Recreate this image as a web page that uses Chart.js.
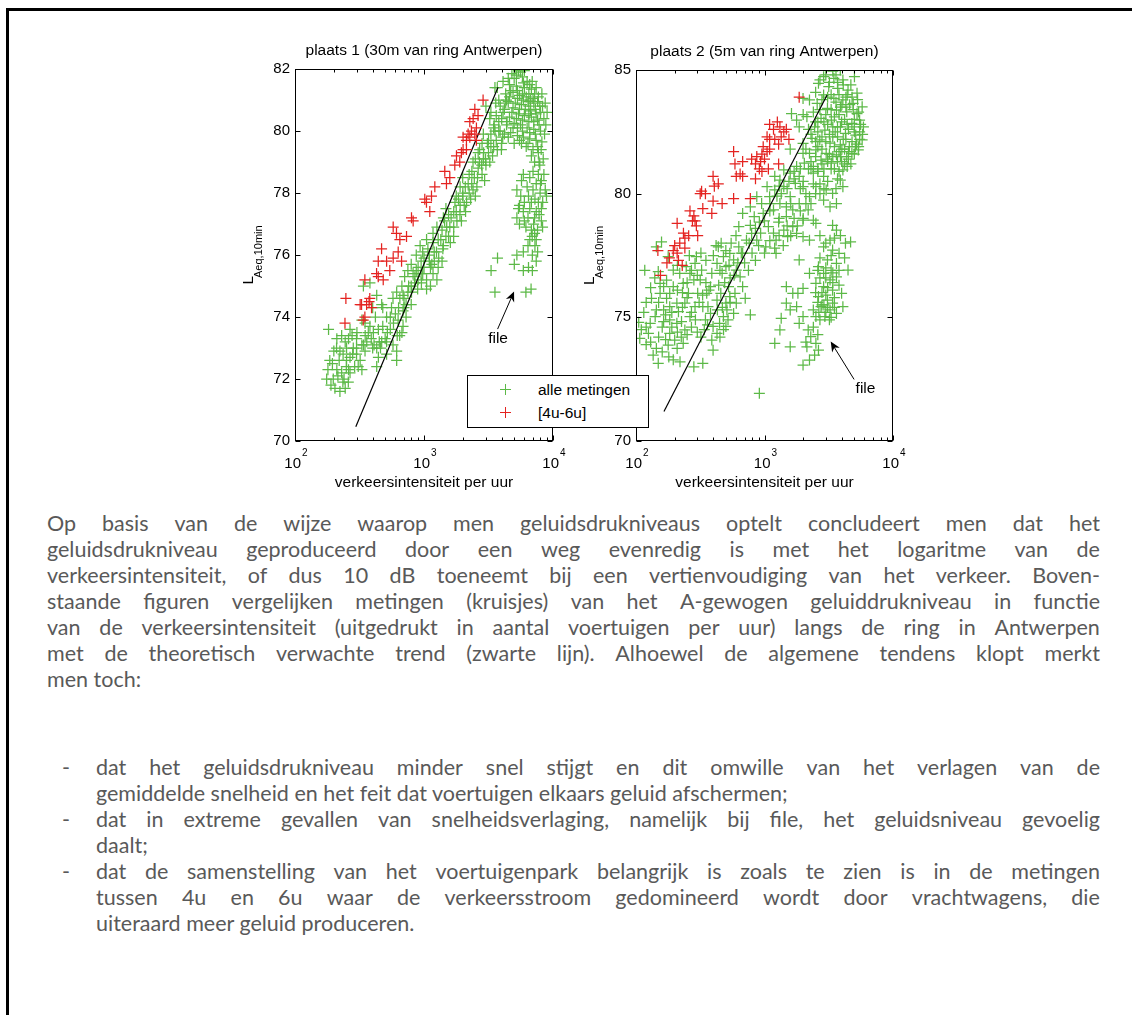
<!DOCTYPE html>
<html><head><meta charset="utf-8">
<script src="https://cdn.jsdelivr.net/npm/chart.js@4.4.1/dist/chart.umd.min.js"></script>
<style>
html,body{margin:0;padding:0;background:#fff}
body{width:1132px;height:1015px;position:relative;overflow:hidden}
#frame{position:absolute;left:6px;top:8px;width:1300px;height:1200px;border-left:3px solid #000;border-top:3px solid #000;box-sizing:border-box}
canvas{position:absolute;top:30px}
#c1{left:230px}
#c2{left:575px}
#legend{position:absolute;left:467px;top:375px;width:180px;height:51px;border:1px solid #000;background:#fff;font:15.5px 'Liberation Sans',Arial,sans-serif;color:#000;z-index:5}
#legend .item{position:absolute;left:0;height:20px;line-height:20px;width:180px}
#legend .cross{position:absolute;left:32px;top:4px;width:11px;height:11px}
#legend .cross:before{content:"";position:absolute;left:0;top:5px;width:11px;height:1px;background:var(--c)}
#legend .cross:after{content:"";position:absolute;left:5px;top:0;width:1px;height:11px;background:var(--c)}
#legend .lab{position:absolute;left:70px;top:0}
.txt{position:absolute;font-family:Lato,sans-serif;font-size:21.5px;line-height:26px;color:#595959}
.ln{height:26px;white-space:nowrap}
.j{display:flex;justify-content:space-between}
.dash{position:absolute;left:-34px}
</style>
</head><body>
<div id="frame"></div>
<canvas id="c1" width="345" height="465" style="width:345px;height:465px"></canvas>
<canvas id="c2" width="340" height="465" style="width:340px;height:465px"></canvas>
<div id="legend">
  <div class="item" style="top:4px"><span class="cross" style="--c:#5cb947"></span><span class="lab" id="lg0"></span></div>
  <div class="item" style="top:27px"><span class="cross" style="--c:#e42320"></span><span class="lab" id="lg1"></span></div>
</div>
<div class="txt" style="left:47px;top:510px;width:1053px">
  <div class="ln j">Op basis van de wijze waarop men geluidsdrukniveaus optelt concludeert men dat het</div>
  <div class="ln j">geluidsdrukniveau geproduceerd door een weg evenredig is met het logaritme van de</div>
  <div class="ln j">verkeersintensiteit, of dus 10 dB toeneemt bij een vertienvoudiging van het verkeer. Boven-</div>
  <div class="ln j">staande figuren vergelijken metingen (kruisjes) van het A-gewogen geluiddrukniveau in functie</div>
  <div class="ln j">van de verkeersintensiteit (uitgedrukt in aantal voertuigen per uur) langs de ring in Antwerpen</div>
  <div class="ln j">met de theoretisch verwachte trend (zwarte lijn). Alhoewel de algemene tendens klopt merkt</div>
  <div class="ln">men toch:</div>
</div>
<div class="txt" style="left:96px;top:754px;width:1004px">
  <div class="ln j" style="position:relative"><span class="dash">-</span>dat het geluidsdrukniveau minder snel stijgt en dit omwille van het verlagen van de</div>
  <div class="ln">gemiddelde snelheid en het feit dat voertuigen elkaars geluid afschermen;</div>
  <div class="ln j" style="position:relative"><span class="dash">-</span>dat in extreme gevallen van snelheidsverlaging, namelijk bij file, het geluidsniveau gevoelig</div>
  <div class="ln">daalt;</div>
  <div class="ln j" style="position:relative"><span class="dash">-</span>dat de samenstelling van het voertuigenpark belangrijk is zoals te zien is in de metingen</div>
  <div class="ln j">tussen 4u en 6u waar de verkeersstroom gedomineerd wordt door vrachtwagens, die</div>
  <div class="ln">uiteraard meer geluid produceren.</div>
</div>
<script>
// ---------- data ----------
const seriesNames = ['alle metingen', '[4u-6u]'];
const chart1Title = 'plaats 1 (30m van ring Antwerpen)';
const chart2Title = 'plaats 2 (5m van ring Antwerpen)';
const xAxisLabel = 'verkeersintensiteit per uur';
const yAxisLabelMain = 'L';
const yAxisLabelSub = 'Aeq,10min';
const xDecadeTicks = [100, 1000, 10000];
const xDecadeExponents = ['2', '3', '4'];
const yTicks1 = [70, 72, 74, 76, 78, 80, 82];
const yTicks2 = [70, 75, 80, 85];
const trend1 = [[296, 70.46], [3750, 81.41]];
const trend2 = [[165, 71.19], [3070, 83.99]];
const fileNote1 = {text: 'file', at: [3750, 73.29], tail: [3720, 73.61], head: [4990, 74.82]};
const fileNote2 = {text: 'file', at: [6110, 72.12], tail: [4980, 72.49], head: [3275, 74.02]};

const red1 = [[248,74.6],[244,73.8],[348,75.2],[328,74.4],[359,74.4],[380,74.6],[392,74.3],[348,74.0],[338,73.9],[429,75.4],[442,75.3],[469,76.2],[483,75.2],[442,75.8],[513,75.8],[543,75.5],[577,75.9],[631,76.1],[670,75.8],[577,76.9],[612,76.7],[650,76.5],[732,76.6],[800,77.2],[824,77.1],[1014,77.8],[1109,77.4],[1143,77.9],[1213,78.2],[1045,77.7],[1449,78.7],[1493,78.3],[1585,78.5],[1733,78.9],[1786,79.2],[1893,79.0],[2009,79.4],[2009,79.8],[2133,79.7],[2198,79.9],[2265,79.8],[2333,80.0],[2133,79.4],[2477,79.9],[2549,80.1],[2404,80.4],[2624,80.5],[2477,80.7],[2871,81.0],[2265,80.3],[2549,79.7],[1950,79.3],[375,74.5],[320,74.4]];

const green1 = [[182,73.6],[176,72.0],[198,72.0],[204,71.7],[223,71.6],[245,71.7],[259,71.9],[211,72.3],[230,72.2],[186,72.6],[236,72.8],[251,73.0],[267,72.7],[290,72.4],[309,72.4],[330,72.3],[245,73.2],[277,73.4],[302,73.5],[330,73.1],[349,72.9],[267,73.6],[283,73.0],[223,72.9],[251,72.6],[211,73.3],[267,72.2],[330,73.9],[349,73.8],[381,73.7],
[405,73.5],[443,73.6],[479,73.7],[443,72.7],[430,72.4],[513,73.2],[548,73.6],[575,73.1],[614,72.9],[648,73.4],[688,73.7],[674,73.5],[513,72.8],[614,72.6],[470,73.2],[548,74.0],[600,74.1],[635,74.3],[688,74.2],[726,74.0],[479,74.3],[513,74.0],[575,74.6],[614,74.8],[674,75.0],[688,74.7],[750,74.8],[796,74.4],[726,74.4],[796,75.0],[846,75.1],[893,74.9],[823,75.4],[871,75.5],[955,75.1],[977,75.4],[1047,75.2],[1122,75.0],[1047,74.9],[1175,75.4],[1259,75.2],[1122,75.6],[1202,75.8],[1288,75.6],[1380,75.8],[977,76.1],[1072,76.2],[1175,76.4],[1288,76.5],[1413,76.3],[1479,76.6],[1380,76.8],[1445,77.1],[1585,76.9],[1698,76.6],[1622,77.2],[1778,77.4],[1905,77.6],[1950,77.1],[1995,77.9],[2138,77.7],[2239,78.0],[2089,78.2],[2344,78.3],[2455,78.5],[2570,78.2],[2630,78.8],[2692,79.0],[2818,78.6],[2884,79.1],[3020,78.9],[2951,78.4],[3162,79.3],[3236,79.0],[3467,79.5],[3631,79.7],[3981,79.4],[4074,79.8],[3890,80.0],[4365,80.2],[3467,80.1],[3236,80.4],[3631,80.5],[3162,79.7],[2884,79.9],[2818,79.6],[2630,79.3],[2399,79.0],[2239,78.6],[1995,78.5],[1905,78.2],[1778,77.9],[1738,77.7],[1479,77.5],[1413,77.2],[1259,76.9],[1175,76.7],[1047,76.5],[933,76.3],[871,76.0],[796,75.7],[750,75.5],[708,75.3],
[430,74.7],[470,74.4],[381,75.1],[339,75.0],[400,74.3],[420,74.0],[3548,81.4],[4365,81.0],[3020,80.8],[3600,80.9],[3300,80.6],
[560,74.3],[650,74.6],[700,74.3],[760,75.0],[900,75.6],[950,75.8],[1000,75.9],[1100,76.0],[1150,75.7],[1250,76.1],[1350,76.5],[1500,76.9],[1550,77.3],[1700,77.4],[1850,77.8],[2000,78.0],[2200,78.3],[2350,78.7],[2500,79.1],[2700,79.4],[2900,79.3],[3100,79.6],[3300,79.9],[3500,80.2],[3800,80.3],[4100,80.6],[4300,80.9],[3800,81.0],[450,73.2],[520,73.5],[580,73.8],[620,73.4],[400,73.0],[350,73.4],[300,73.0],[250,72.4],[220,72.6],[200,72.9],[190,71.8],[240,72.0],
[5400,81.95],[5000,81.7],[5800,81.75],[6300,81.6],[4600,81.5],[5200,81.45],[6000,81.4],[6800,81.35],[4300,81.2],[4900,81.25],[5500,81.15],[6200,81.1],[7000,81.05],[7600,80.95],[4500,80.95],[5100,80.9],[5700,80.85],[6500,80.8],[7300,80.7],[8000,80.6],[4200,80.7],[4800,80.6],[5400,80.55],[6000,80.5],[6800,80.45],[7600,80.35],[8500,80.4],[4400,80.3],[5000,80.25],[5600,80.2],[6300,80.1],[7100,80.05],[8000,80.0],[4700,79.95],[5300,79.85],[5900,79.8],[6600,79.75],[7400,79.7],[8200,79.65],[5000,79.6],[6200,79.5],[7000,79.4],[7700,79.3],[8400,79.1],[7200,79.0],[7900,78.9],[3900,80.8],[3700,81.4],[4100,81.6],[5600,81.9],[6700,81.0],[8700,80.9],[8200,81.2],[7400,81.4],[4000,80.4],[3800,80.0],[6000,81.95],[4800,81.85],[5300,80.1],[6500,80.3],[5700,79.6],[8800,80.2],[9000,80.6],
[4500,81.7],[5000,82.0],[5900,81.55],[6600,81.5],[4700,81.3],[5300,81.3],[5800,81.2],[6500,81.2],[7200,81.2],[4600,81.1],[5300,81.05],[5900,81.0],[6400,80.95],[7100,80.9],[7900,80.8],[4900,80.75],[5500,80.7],[6100,80.7],[6700,80.65],[7400,80.55],[4600,80.45],[5200,80.4],[5800,80.35],[6500,80.55],[7100,80.3],[7800,80.2],[4900,80.1],[5800,80.0],[6600,79.95],[7300,79.9],[5500,79.7],[6400,79.6],[7600,79.5],[8100,79.4],[4500,79.8],[8600,79.9],[8300,80.8],[7700,81.1],[6900,81.6],[5200,81.8],
[5888,78.6],[6607,78.5],[7413,78.3],[8128,78.4],[5248,78.1],[5623,77.9],[6457,77.9],[7244,77.8],[7943,78.0],[8318,77.7],[5495,77.6],[5888,77.4],[6607,77.5],[7413,77.4],[8128,77.1],[5248,77.2],[5495,77.0],[6166,76.9],[7079,77.0],[7586,76.8],[8128,77.5],[8710,78.1],[6607,76.5],[7244,76.3],[6918,76.0],[7413,75.8],[6457,75.6],[6918,75.5],[5888,75.5],[5888,76.1],[5012,75.7],[5248,76.0],[3715,75.9],[3311,75.5],[3548,74.8],[6166,74.8],[6761,74.9],[7413,76.5],[7800,79.0],[6800,79.2],[8500,78.6],[8900,77.9],[7000,78.7],
[6300,78.2],[7000,78.1],[7700,78.6],[6000,77.7],[6800,77.7],[7700,77.7],[6400,77.2],[7200,77.2],[7800,77.3],[6000,77.1],[6800,76.8],[7200,76.7],[6400,76.3],[6900,76.6],[7600,76.1],[8300,76.9],[8000,78.3],[5700,78.4],[5400,77.5],
[1300,75.9],[1400,76.2],[1600,76.4],[1700,76.9],[1800,77.1],[2100,77.4],[2300,77.8],[2500,77.9],[2600,78.5],[2800,78.9],[3000,79.1],[3400,79.2],[3700,79.4],[4000,79.6],[4200,79.9],[3300,79.5],[2400,78.1],[1900,77.3],[1100,75.8],[950,75.4],[850,75.3],[800,74.8],[700,74.6],[630,73.9],[900,75.2],[1000,75.6],[1200,76.1],[1550,76.6],[2050,77.6],[3550,80.0],
[180,72.3],[195,72.5],[215,72.1],[235,71.9],[260,72.3],[280,72.8],[300,72.8],[320,72.6],[340,73.1],[360,73.2],[300,73.3],[260,73.3],[230,73.4],[210,73.0],[370,73.5],[390,73.3],[410,73.1],[430,73.0],[460,73.0],[500,73.3]];

const red2 = [[1862,83.9],[1096,82.8],[1175,82.6],[1259,82.9],[1318,82.7],[1413,82.5],[1479,82.6],[1047,82.3],[1096,82.2],[1202,82.2],[1288,82.0],[1349,82.3],[1549,82.2],[977,81.9],[1047,81.7],[1096,81.8],[955,81.6],[1000,81.4],[871,81.5],[933,81.3],[851,81.2],[912,81.0],[955,80.9],[1072,81.0],[1288,81.2],[676,81.3],[575,81.7],[589,81.2],[794,81.4],[603,80.7],[646,80.8],[676,80.7],[851,80.6],[398,80.7],[407,80.3],[437,80.4],[324,80.1],[347,80.0],[316,80.0],[398,79.7],[468,79.6],[575,79.8],[776,79.8],[331,79.4],[389,79.2],[263,79.3],[282,79.1],[288,78.9],[295,78.7],[275,78.9],[302,78.3],[209,78.8],[234,78.4],[240,78.2],[257,78.3],[219,78.0],[200,77.9],[209,77.6],[195,77.7],[182,77.4],[214,77.3],[229,77.1],[174,77.2],[148,77.7],[155,76.7],[240,77.8]];

const green2 = [[107,74.15],[125,74.35],[110,74.5],[129,74.76],[141,75.03],[117,76.9],[149,76.85],[132,75.77],[154,75.97],[164,76.24],[173,76.5],[183,75.97],[195,76.24],[208,75.57],[183,75.43],[164,75.3],[144,75.3],[164,74.83],[183,74.9],[208,74.76],[226,74.83],[183,74.35],[200,74.08],[178,73.88],[209,73.74],[144,73.74],[136,73.47],[149,73.14],[195,73.28],[233,73.95],[240,74.49],[214,75.23],[173,75.77],[154,76.37],[233,76.37],[256,75.97],[263,76.78],[219,76.78],[195,76.91],[178,77.45],[246,77.05],[288,77.18],[282,76.51],[240,75.57],[263,75.03],[288,75.43],[302,75.97],[316,76.51],[324,76.91],[295,77.45],[282,73.0],[331,73.14],[331,75.43],[355,75.97],[347,74.9],[380,75.16],[398,74.63],[389,74.08],[427,74.35],[447,74.76],[479,75.03],[501,74.63],[398,73.67],[363,75.43],[427,75.7],[457,75.97],[501,75.57],[537,75.84],[525,76.24],[589,75.97],[603,75.57],[575,75.16],[468,76.78],[501,77.05],[479,77.45],[537,77.59],[575,77.32],[603,76.91],[646,76.64],[427,77.18],[389,76.78],[380,76.24],[437,77.85],[676,76.24],[708,75.77],[776,75.1],[631,77.85],[676,77.59],[724,78.12],[794,78.39],[871,78.12],[776,78.72],[832,79.07],[912,78.85],[977,79.2],[1072,78.67],[1175,78.4],[1288,78.85],[1175,79.34],[1318,79.6],[1096,79.88],[1202,80.15],[1413,80.28],[1585,79.88],[1479,79.47],[1738,80.42],[1862,80.7],[1995,80.28],[1778,81.1],[2042,81.23],[2239,81.63],[1995,82.03],[1862,82.7],[2138,83.11],[1622,83.24],[1778,82.97],[1585,81.8],[1995,81.63],[1023,77.85],[1230,78.12],[1413,78.53],[1479,79.07],[1660,79.34],[1862,79.6],[2239,79.88],[2512,80.28],[2399,80.83],[2884,80.7],[3020,80.15],[3388,80.01],[3631,79.6],[3890,80.55],[4074,80.28],[3236,79.47],[2884,79.74],[1585,80.83],[1413,80.96],[1318,80.55],[1202,80.7],[1047,80.28],[871,79.88],[776,79.47],[676,79.2],[631,78.67],[933,78.4],[1230,77.59],[1514,78.26],[1660,78.67],[1995,78.93],[2188,79.34],[2399,78.93],[1995,78.26],[1778,78.39],[158,78.05],[144,77.85],
[700,77.2],[800,77.6],[900,77.9],[760,78.0],[850,78.6],[1000,78.9],[1100,79.3],[950,79.6],[1250,79.9],[1350,80.0],[1550,80.5],[1700,80.9],[1300,79.0],[1600,79.6],[1900,80.2],[2100,80.0],[2400,80.4],[2600,81.0],[2100,81.8],[2300,82.4],[2000,83.2],
[3890,85.0],[2884,84.73],[3467,84.66],[4074,84.6],[2630,84.46],[3162,84.33],[3715,84.26],[4467,84.19],[2884,83.99],[3467,83.85],[4074,83.79],[4898,83.65],[2570,83.65],[3090,83.45],[3631,83.38],[4365,83.31],[5248,83.24],[2754,83.04],[3311,82.97],[3981,82.9],[4786,82.84],[5495,82.97],[2455,82.7],[2951,82.57],[3548,82.5],[4266,82.44],[5129,82.37],[5754,82.17],[2692,82.17],[3236,82.04],[3890,81.97],[4571,81.9],[5370,81.77],[3020,81.63],[3631,81.57],[4365,81.5],[2754,81.36],[3311,81.23],[3981,81.3],[4786,81.63],[2512,81.77],[2344,82.24],[2239,83.79],[1995,83.85],[5012,84.73],[5248,84.06],[5754,83.51],[5888,82.7],[4074,80.96],
[3300,84.0],[3800,84.0],[4300,83.9],[3000,83.2],[3900,83.5],[4600,83.6],[3500,83.1],[4200,83.0],[2600,82.9],[3100,82.8],[3700,82.7],[4500,82.6],[5000,83.0],[2800,82.3],[3400,82.3],[4100,82.2],[4800,82.1],[2600,81.9],[3200,81.6],[3800,81.7],[4200,81.8],[5100,81.9],[2900,81.0],[3500,81.0],[4400,81.1],[2600,80.9],[3100,81.3],[5500,82.5],[5300,83.8],[4700,84.4],[3400,84.95],[3600,84.8],[2400,83.3],[2200,82.6],[2300,81.3],[3700,80.6],[3600,80.2],[2700,80.0],
[2700,84.6],[3000,84.8],[3200,84.5],[3700,84.5],[4100,84.4],[4400,84.0],[2500,84.1],[2800,83.8],[3100,83.9],[3600,83.7],[4000,83.6],[4800,83.9],[2700,83.4],[3300,83.4],[3800,83.2],[4300,83.5],[4900,83.4],[5400,83.3],[2500,82.9],[2900,82.9],[3400,82.7],[3900,82.7],[4400,82.8],[5000,82.7],[5600,82.8],[2600,82.5],[3200,82.4],[3700,82.3],[4300,82.2],[5000,82.5],[5500,82.2],[2500,82.1],[3000,82.1],[3500,81.9],[4000,81.8],[4500,81.7],[5000,81.6],[2800,81.8],[3400,81.5],[3900,81.5],[4500,81.4],[2500,81.5],[3100,81.4],[3700,81.3],[4200,81.2],[2800,81.2],[3300,81.0],[3800,80.9],[2400,81.1],[2200,81.0],[5400,81.9],[5800,82.4],[5200,82.0],[4700,81.2],
[105,74.8],[115,75.2],[120,75.6],[130,76.2],[140,76.6],[120,73.9],[130,74.0],[150,74.2],[160,74.6],[170,74.1],[190,74.6],[210,74.4],[225,74.2],[250,74.3],[270,74.6],[290,74.9],[300,74.4],[320,74.2],[340,74.5],[360,74.7],[150,75.6],[170,75.1],[190,75.2],[230,75.4],[250,75.8],[270,75.2],[310,75.6],[330,75.9],[370,76.1],[210,76.1],[230,76.0],[250,76.4],[270,76.9],[300,76.7],[350,76.4],[210,77.1],[260,77.5],[320,77.6],[350,77.3],[400,77.5],[420,77.9],[460,78.0],[500,77.7],[550,78.0],[600,78.3],[180,73.4],[220,73.2],[160,73.6],[120,74.6],[450,74.2],[480,74.5],[520,74.9],[430,75.3],[470,75.4],[510,75.3],[440,76.3],[490,76.4],[540,76.6],[450,76.9],[530,77.1],[580,76.7],[620,77.2],[660,77.6],[540,75.6],
[1100,78.1],[1300,78.3],[1500,78.7],[1700,79.0],[1900,79.3],[2100,79.6],[2300,79.6],[2500,80.0],[2700,80.4],[2900,80.2],[3100,80.5],[2000,79.0],[1800,78.7],[1600,78.3],[1400,77.9],[1200,77.8],[1000,77.6],[850,77.3],[750,76.9],[1100,79.6],[1300,80.3],[1500,80.2],[1700,80.6],[1900,81.0],[2300,81.0],[2000,80.5],
[2512,78.8],[3388,78.72],[3631,78.53],[3236,78.12],[2884,77.85],[3388,77.72],[3802,77.59],[4266,78.0],[4677,78.05],[3090,77.32],[3631,77.18],[4467,76.91],[2630,77.05],[2239,76.78],[2884,76.78],[3236,76.51],[3631,76.64],[2512,76.37],[2884,76.24],[3388,76.1],[2630,75.84],[3090,75.7],[3388,75.57],[2754,75.43],[3236,75.3],[3631,75.16],[2399,75.3],[2512,75.03],[2951,75.03],[1862,77.32],[1995,76.17],[1820,75.97],[1778,75.43],[1995,75.03],[1862,74.76],[2188,74.49],[2291,74.22],[2512,73.95],[2630,73.67],[2455,73.47],[2239,73.27],[1995,73.07],[2138,73.81],[1479,76.24],[1660,75.97],[1479,75.57],[1585,75.3],[1349,74.96],[1318,74.49],[1202,73.95],[1585,73.81],[4074,75.43],[3981,75.97],[912,71.93],[2239,78.12],[2800,76.0],[3000,75.9],[3300,76.9],[2700,76.6],[3100,76.2],[3500,75.8],[2900,75.5],[3300,75.0],[2600,75.6],
[2700,78.3],[3000,78.0],[3500,78.2],[3300,77.5],[2700,77.4],[3000,77.0],[3400,76.8],[3800,76.9],[3000,76.6],[2600,76.9],[3400,76.4],[3800,76.3],[2500,76.0],[2800,75.5],[3100,75.4],[3500,75.4],[2650,75.2],[3000,75.2],[3200,74.9],[2400,74.6],[2600,74.3],[2100,74.0],[2700,74.9],[4200,77.4],[3900,78.3]];

// ---------- styling ----------
const GREEN = '#5cb947';
const RED = '#e42320';
const FONT = "'Liberation Sans', Arial, sans-serif";

document.getElementById('lg0').textContent = seriesNames[0];
document.getElementById('lg1').textContent = seriesNames[1];

// justify lines: each word becomes a flex item
document.querySelectorAll('.ln.j').forEach(el => {
  const dash = el.querySelector('.dash');
  const text = Array.from(el.childNodes).filter(n => n.nodeType === 3).map(n => n.textContent).join('').trim();
  el.innerHTML = '';
  if (dash) el.appendChild(dash);
  text.split(/\s+/).forEach(w => { const s = document.createElement('span'); s.textContent = w; el.appendChild(s); });
});

const toXY = arr => arr.map(p => ({x: p[0], y: p[1]}));

function decor(o) {
  return {
    id: 'decor',
    afterDraw(chart) {
      const {ctx, chartArea: a, scales: {x, y}} = chart;
      const L = Math.round(a.left) + 0.5, R = Math.round(a.right) - 0.5;
      const T = Math.round(a.top) + 0.5, B = Math.round(a.bottom) - 0.5;
      ctx.save();
      ctx.strokeStyle = '#000'; ctx.fillStyle = '#000'; ctx.lineWidth = 1;
      ctx.strokeRect(L, T, R - L, B - T);
      ctx.beginPath();
      xDecadeTicks.forEach((d, i) => {
        const px = Math.round(x.getPixelForValue(d)) + 0.5;
        ctx.moveTo(px, B); ctx.lineTo(px, B - 5);
        ctx.moveTo(px, T); ctx.lineTo(px, T + 5);
        if (i < xDecadeTicks.length - 1) {
          for (let m = 2; m <= 9; m++) {
            const mx = Math.round(x.getPixelForValue(m * d)) + 0.5;
            ctx.moveTo(mx, B); ctx.lineTo(mx, B - 3);
            ctx.moveTo(mx, T); ctx.lineTo(mx, T + 3);
          }
        }
      });
      o.yTicks.forEach(v => {
        const py = Math.round(y.getPixelForValue(v)) + 0.5;
        ctx.moveTo(L, py); ctx.lineTo(L + 5, py);
        ctx.moveTo(R, py); ctx.lineTo(R - 5, py);
      });
      ctx.stroke();
      xDecadeTicks.forEach((d, i) => {
        const px = x.getPixelForValue(d);
        ctx.font = `15px ${FONT}`; ctx.textAlign = 'right'; ctx.textBaseline = 'alphabetic';
        ctx.fillText('10', px + 6, a.bottom + 27);
        ctx.font = `10px ${FONT}`; ctx.textAlign = 'left';
        ctx.fillText(xDecadeExponents[i], px + 7, a.bottom + 15);
      });
      ctx.font = `15.5px ${FONT}`; ctx.textAlign = 'center'; ctx.textBaseline = 'middle';
      ctx.fillText(o.title, (a.left + a.right) / 2, a.top - 18);
      ctx.save();
      ctx.font = `15.5px ${FONT}`;
      const wL = ctx.measureText(yAxisLabelMain).width;
      ctx.font = `11px ${FONT}`;
      const wS = ctx.measureText(yAxisLabelSub).width;
      const tot = wL - 2 + wS;
      ctx.translate(a.left - 42, (a.top + a.bottom) / 2 + tot / 2);
      ctx.rotate(-Math.PI / 2);
      ctx.textAlign = 'left'; ctx.textBaseline = 'alphabetic';
      ctx.font = `15.5px ${FONT}`;
      ctx.fillText(yAxisLabelMain, 0, 0);
      ctx.font = `11px ${FONT}`;
      ctx.fillText(yAxisLabelSub, wL - 2, 9);
      ctx.restore();
      const n = o.note;
      const hx = x.getPixelForValue(n.head[0]), hy = y.getPixelForValue(n.head[1]);
      const tx = x.getPixelForValue(n.tail[0]), ty = y.getPixelForValue(n.tail[1]);
      const len = Math.hypot(hx - tx, hy - ty), ux = (hx - tx) / len, uy = (hy - ty) / len;
      const nx = -uy, ny = ux;
      ctx.beginPath(); ctx.moveTo(tx, ty); ctx.lineTo(hx - ux * 6, hy - uy * 6); ctx.stroke();
      ctx.beginPath();
      ctx.moveTo(hx, hy);
      ctx.lineTo(hx - ux * 10 + nx * 4.5, hy - uy * 10 + ny * 4.5);
      ctx.lineTo(hx - ux * 7, hy - uy * 7);
      ctx.lineTo(hx - ux * 10 - nx * 4.5, hy - uy * 10 - ny * 4.5);
      ctx.closePath(); ctx.fill();
      ctx.font = `15.5px ${FONT}`; ctx.textAlign = 'center'; ctx.textBaseline = 'middle';
      ctx.fillText(n.text, x.getPixelForValue(n.at[0]), y.getPixelForValue(n.at[1]));
      ctx.restore();
    }
  };
}

function makeChart(id, o) {
  return new Chart(document.getElementById(id), {
    type: 'scatter',
    data: {
      datasets: [
        {label: seriesNames[1], data: toXY(o.red), pointStyle: 'cross', pointRadius: 5.5, pointBorderWidth: 1.25,
         borderColor: RED, backgroundColor: RED, order: 0},
        {label: 'trend', data: toXY(o.trend), showLine: true, pointRadius: 0, borderColor: '#000',
         backgroundColor: '#000', borderWidth: 1.2, order: 1},
        {label: seriesNames[0], data: toXY(o.green), pointStyle: 'cross', pointRadius: 5.5, pointBorderWidth: 1.25,
         borderColor: GREEN, backgroundColor: GREEN, order: 2}
      ]
    },
    options: {
      responsive: false, animation: false, events: [],
      layout: {padding: {left: o.padL, top: o.padT, right: o.padR, bottom: 0}},
      plugins: {legend: {display: false}, tooltip: {enabled: false}, title: {display: false}},
      scales: {
        x: {type: 'logarithmic', min: 100, max: 10000,
            grid: {display: false, drawTicks: false}, border: {display: false},
            ticks: {display: false},
            title: {display: true, text: xAxisLabel, color: '#000', font: {family: FONT, size: 15.5}, padding: {top: 0, bottom: 3}},
            afterFit: s => { s.height = 54; }},
        y: {type: 'linear', min: o.ymin, max: o.ymax,
            grid: {display: false, drawTicks: false}, border: {display: false},
            ticks: {stepSize: o.ystep, color: '#000', font: {family: FONT, size: 15}, padding: 5},
            afterFit: s => { s.width = 45; }}
      }
    },
    plugins: [decor(o)]
  });
}

makeChart('c1', {red: red1, green: green1, trend: trend1, title: chart1Title, yTicks: yTicks1,
  ymin: 70, ymax: 82, ystep: 2, padL: 20, padT: 39, padR: 22, note: fileNote1});
makeChart('c2', {red: red2, green: green2, trend: trend2, title: chart2Title, yTicks: yTicks2,
  ymin: 70, ymax: 85, ystep: 5, padL: 16, padT: 40, padR: 22, note: fileNote2});
</script>
</body></html>
